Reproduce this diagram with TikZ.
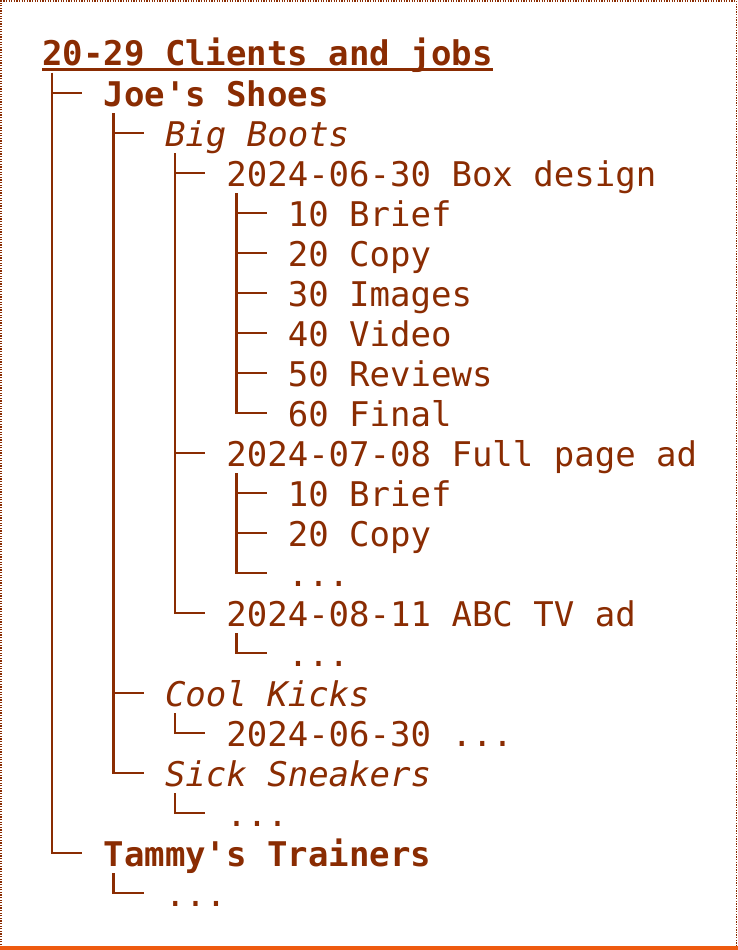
\documentclass[tikz,border=0pt]{standalone}
\usepackage{fontspec}
\newfontfamily\treefont{DejaVu Sans Mono}
\usepackage{tikz}
\usetikzlibrary{calc}
\usepackage{xcolor}
\definecolor{treebrown}{HTML}{8A2C02}
\definecolor{treeorange}{HTML}{EE5A10}

\begin{document}
\begin{tikzpicture}[
    x=1pt, y=-1pt,
    entry/.style={anchor=base west, inner sep=0pt, text=treebrown,
                  font=\treefont\fontsize{34}{40}\selectfont},
    client/.style={entry, font=\treefont\bfseries\fontsize{34}{40}\selectfont},
    brand/.style={entry, font=\treefont\itshape\fontsize{34}{40}\selectfont},
    branch/.style={draw=treebrown, line width=2.4pt}
]
\useasboundingbox (0,0) rectangle (738,950);
\fill[white] (0,0) rectangle (738,950);
\draw[treebrown, line width=1.3pt, dash pattern=on 1.3pt off 1.3pt]
    (1,945) -- (1,1) -- (736.5,1) -- (736.5,945);
\fill[treeorange] (0,945.5) rectangle (738,950);

% title
\node[client] (title) at (42,66) {20-29 Clients and jobs};
\draw[treebrown, line width=3pt] ($(title.base west)+(0,4)$) -- ($(title.base east)+(0,4)$);

% clients
\node[client] (joes) at (103.4,106) {Joe's Shoes};
\node[brand] (bigboots) at (164.8,146) {Big Boots};
\node[entry] (boxdesign) at (226.2,186) {2024-06-30 Box design};
\node[entry] (bdbrief) at (287.6,226) {10 Brief};
\node[entry] (bdcopy) at (287.6,266) {20 Copy};
\node[entry] (bdimages) at (287.6,306) {30 Images};
\node[entry] (bdvideo) at (287.6,346) {40 Video};
\node[entry] (bdreviews) at (287.6,386) {50 Reviews};
\node[entry] (bdfinal) at (287.6,426) {60 Final};
\node[entry] (fullpage) at (226.2,466) {2024-07-08 Full page ad};
\node[entry] (fpbrief) at (287.6,506) {10 Brief};
\node[entry] (fpcopy) at (287.6,546) {20 Copy};
\node[entry] (fpmore) at (287.6,586) {...};
\node[entry] (abctv) at (226.2,626) {2024-08-11 ABC TV ad};
\node[entry] (abcmore) at (287.6,666) {...};
\node[brand] (coolkicks) at (164.8,706) {Cool Kicks};
\node[entry] (ckjob) at (226.2,746) {2024-06-30 ...};
\node[brand] (sick) at (164.8,786) {Sick Sneakers};
\node[entry] (sickmore) at (226.2,826) {...};
\node[client] (tammy) at (103.4,866) {Tammy's Trainers};
\node[entry] (tammymore) at (164.8,906) {...};

% tree lines
\foreach \p/\c in {title/joes, title/tammy,
                   joes/bigboots, joes/coolkicks, joes/sick,
                   bigboots/boxdesign, bigboots/fullpage, bigboots/abctv,
                   boxdesign/bdbrief, boxdesign/bdcopy, boxdesign/bdimages,
                   boxdesign/bdvideo, boxdesign/bdreviews, boxdesign/bdfinal,
                   fullpage/fpbrief, fullpage/fpcopy, fullpage/fpmore,
                   abctv/abcmore, coolkicks/ckjob, sick/sickmore,
                   tammy/tammymore}
    \draw[branch] ($(\p.base west)+(10.2,7)$) |- ($(\c.base west)+(-21,-13)$);
\end{tikzpicture}
\end{document}
